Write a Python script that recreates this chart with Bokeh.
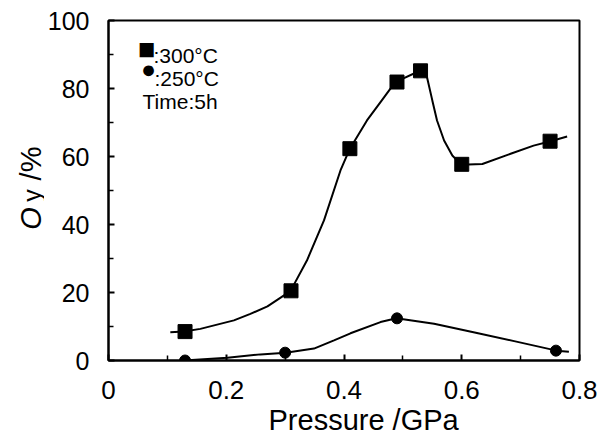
import math
from bokeh.plotting import figure
from bokeh.layouts import row
from bokeh.models import Label, Range1d, FixedTicker, Title
from bokeh.core.properties import value
from bokeh.embed import file_html
from bokeh.resources import INLINE

# Measured points (Pressure in GPa, Oy in %)
pressure_300 = [0.13, 0.31, 0.41, 0.49, 0.53, 0.60, 0.75]
oy_300 = [8.5, 20.5, 62.3, 81.9, 85.2, 57.7, 64.5]
pressure_250 = [0.13, 0.30, 0.49, 0.76]
oy_250 = [0.0, 2.3, 12.4, 2.9]

# Smooth guide curves
curve_300_x = [0.105, 0.128, 0.156, 0.213, 0.241, 0.270, 0.309, 0.337, 0.366, 0.394, 0.410,
               0.439, 0.462, 0.487, 0.530, 0.541, 0.550, 0.558, 0.570, 0.584, 0.599, 0.635,
               0.683, 0.722, 0.751, 0.779]
curve_300_y = [8.3, 8.5, 9.3, 11.8, 13.7, 15.9, 20.4, 29.4, 41.2, 55.9, 62.3,
               70.6, 76.0, 81.9, 85.3, 83.3, 76.5, 70.6, 64.7, 60.3, 57.6, 57.8,
               60.8, 63.2, 64.5, 65.9]
curve_250_x = [0.128, 0.202, 0.258, 0.301, 0.349, 0.383, 0.411, 0.462, 0.489, 0.553, 0.620,
               0.689, 0.761, 0.782]
curve_250_y = [0.0, 0.8, 1.8, 2.3, 3.5, 5.9, 8.0, 11.3, 12.4, 10.8, 8.3, 5.7, 2.9, 2.6]

x_ticks = [0, 0.2, 0.4, 0.6, 0.8]
x_tick_labels = ["0", "0.2", "0.4", "0.6", "0.8"]
y_ticks = [0, 20, 40, 60, 80, 100]

y_title_parts = ["O", "y", "/%"]

FONT = "Liberation Sans"
W, H = 600, 440
SIDE = 44          # width of the strip carrying the vertical title
FL, FT = 108, 20   # frame left / top in page pixels
FW, FH = 471, 340  # frame size

# --- strip with the y-axis title (its frame is aligned with the main frame: page y 20..360) ---
t = figure(width=SIDE, height=H, output_backend="svg", toolbar_location=None,
           x_range=Range1d(0, SIDE), y_range=Range1d(0, FH), title=None,
           min_border=0, x_axis_type=None, y_axis_type=None)
t.grid.visible = False
t.outline_line_color = None
t.background_fill_color = "white"
t.border_fill_color = "white"
t.text(x=[30, 31, 30], y=[FT + FH - 218, FT + FH - 195, FT + FH - 163], text=y_title_parts,
       angle=math.pi / 2, text_font=value(FONT),
       text_font_size=["29px", "25px", "29px"],
       text_font_style=["italic", "normal", "normal"],
       text_align="center", text_baseline="middle", text_color="black")

# --- main plot ---
p = figure(width=W - SIDE, height=H, output_backend="svg", toolbar_location=None,
           x_range=Range1d(0, 0.8), y_range=Range1d(0, 100),
           min_border_left=FL - SIDE, min_border_right=W - FL - FW,
           min_border_top=FT, min_border_bottom=H - FT - FH)
p.grid.visible = False
p.outline_line_color = "black"
p.outline_line_width = 2
p.background_fill_color = "white"
p.border_fill_color = "white"

for ax in (p.xaxis[0], p.yaxis[0]):
    ax.axis_line_width = 2
    ax.major_tick_in = 6
    ax.major_tick_out = 0
    ax.minor_tick_in = 5
    ax.minor_tick_out = 0
    ax.major_tick_line_width = 2
    ax.minor_tick_line_width = 1.5
    ax.major_label_text_font = FONT
    ax.major_label_text_color = "black"

p.xaxis.major_label_text_font_size = "26px"
p.yaxis.major_label_text_font_size = "25px"
p.xaxis.ticker = FixedTicker(ticks=x_ticks, minor_ticks=[0.1, 0.3, 0.5, 0.7])
p.xaxis.major_label_overrides = {tk: l for tk, l in zip(x_ticks, x_tick_labels)}
p.xaxis.major_label_standoff = 20
p.yaxis.ticker = FixedTicker(ticks=y_ticks, minor_ticks=[10, 30, 50, 70, 90])
p.yaxis.major_label_standoff = 19

p.line(curve_300_x, curve_300_y, line_color="black", line_width=2)
p.line(curve_250_x, curve_250_y, line_color="black", line_width=2)
p.scatter(pressure_300, oy_300, marker="square", size=14, fill_color="black", line_color="black")
p.scatter(pressure_250, oy_250, marker="circle", size=11, fill_color="black", line_color="black")

# x-axis title
p.add_layout(Title(text="Pressure /GPa", align="left", offset=268 - FL, text_font=FONT,
                   text_font_size="29px", text_font_style="normal", text_color="black",
                   standoff=0), "below")

def lab(px, py, text, size, align="left", baseline="alphabetic"):
    p.add_layout(Label(x=px - FL, y=FT + FH - py, x_units="screen", y_units="screen",
                       text=text, text_font=FONT, text_font_size=size,
                       text_align=align, text_baseline=baseline, text_color="black"))

# legend
lab(146, 48, "■", "29px", align="center", baseline="middle")
lab(153, 55, ":300°C", "21px")
lab(148, 68, "●", "25px", align="center", baseline="middle")
lab(154, 78, ":250°C", "21px")
lab(142, 101, "Time:5h", "21px")

open("out.html", "w").write(file_html(row(t, p, spacing=0), INLINE))
